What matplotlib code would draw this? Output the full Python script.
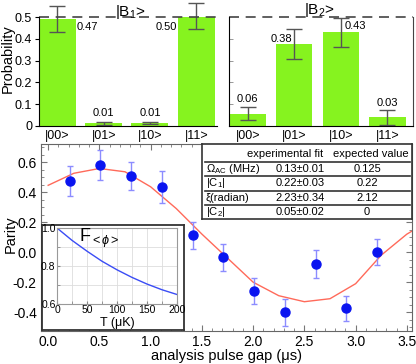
import numpy as np
import matplotlib
matplotlib.use("Agg")
from matplotlib import pyplot as plt
from matplotlib.ticker import MultipleLocator

plt.rcParams['font.family'] = ['Liberation Sans', 'DejaVu Sans']
plt.rcParams['mathtext.fontset'] = 'custom'
plt.rcParams['mathtext.rm'] = 'Liberation Sans'
plt.rcParams['mathtext.it'] = 'Liberation Sans:italic'

# top bar charts
states = ["|00>", "|01>", "|10>", "|11>"]
b1_prob = [0.49, 0.012, 0.013, 0.505]
b1_err = [0.06, 0.007, 0.006, 0.06]
b1_text = ["0.47", "0.01", "0.01", "0.50"]
b2_prob = [0.057, 0.376, 0.43, 0.04]
b2_err = [0.03, 0.07, 0.067, 0.035]
b2_text = ["0.06", "0.38", "0.43", "0.03"]

# parity measurement
gap = [0.21, 0.51, 0.81, 1.11, 1.41, 1.71, 2.01, 2.31, 2.61, 2.91, 3.21]
parity = [0.474, 0.577, 0.507, 0.435, 0.113, -0.035, -0.26, -0.40, -0.079, -0.374, 0.002]
parity_err = [0.1, 0.1, 0.095, 0.105, 0.09, 0.088, 0.085, 0.09, 0.09, 0.085, 0.088]

# fit curve
fit_t = [0.0, 0.25, 0.5, 0.75, 1.0, 1.25, 1.5, 1.75, 2.0, 2.25, 2.5, 2.75, 3.0, 3.25, 3.5, 3.55]
fit_p = [0.445, 0.525, 0.557, 0.535, 0.435, 0.29, 0.12, -0.04, -0.20, -0.29, -0.33, -0.31, -0.21, -0.02, 0.12, 0.14]

# inset
temp = [0, 25, 50, 75, 100, 125, 150, 175, 200]
fidelity = [1.0, 0.935, 0.878, 0.825, 0.78, 0.74, 0.705, 0.675, 0.65]

# table
row_names = ["Ω$_{\\mathrm{AC}}$ (MHz)", "|C$_1$|", "ξ(radian)", "|C$_2$|"]
fit_vals = ["0.13±0.01", "0.22±0.03", "2.23±0.34", "0.05±0.02"]
expected = ["0.125", "0.22", "2.12", "0"]

green = '#86f31f'
W, H = 416, 364
fig = plt.figure(figsize=(W / 100, H / 100), dpi=100)

def px(l, t, r, b):
    return [l / W, 1 - b / H, (r - l) / W, (b - t) / H]

x = np.arange(4)

# |B1>
ax1 = fig.add_axes(px(39, 17, 217, 126))
ax1.bar(x, b1_prob, width=0.8, color=green)
ax1.errorbar(x, b1_prob, yerr=b1_err, fmt='none', ecolor='#555555', elinewidth=1,
             capsize=5.5, capthick=1, clip_on=False)
ax1.set_xlim(-0.4, 3.45)
ax1.set_ylim(0, 0.5)
ax1.set_yticks([0, 0.1, 0.2, 0.3, 0.4, 0.5])
ax1.set_yticklabels(["0", "0.1", "0.2", "0.3", "0.4", "0.5"], fontsize=9)
ax1.set_xticks(x)
ax1.set_xticklabels(states, fontsize=9)
ax1.tick_params(axis='x', length=0, pad=3)
ax1.tick_params(axis='y', length=3, width=0.8, pad=2)
ax1.spines['top'].set_visible(False)
ax1.spines['right'].set_visible(False)
ax1.axhline(0.5, color='#444444', lw=1.2, ls=(0, (6, 4)), clip_on=False)
ax1.set_ylabel("Probability", fontsize=10.5)
ax1.yaxis.set_label_coords(-0.137, 0.62)
ax1.text(0.42, 0.454, b1_text[0], fontsize=8, ha='left', va='center')
ax1.text(1, 0.06, b1_text[1], fontsize=8, ha='center', va='center')
ax1.text(2, 0.06, b1_text[2], fontsize=8, ha='center', va='center')
ax1.text(2.58, 0.454, b1_text[3], fontsize=8, ha='right', va='center')
ax1.text(1.58, 0.525, "|B$_1$>", fontsize=11, ha='center', va='center')

# |B2>
ax2 = fig.add_axes(px(229, 17, 413, 126))
ax2.bar(x, b2_prob, width=0.78, color=green)
ax2.errorbar(x, b2_prob, yerr=b2_err, fmt='none', ecolor='#555555', elinewidth=1,
             capsize=5.5, capthick=1, clip_on=False)
ax2.set_xlim(-0.4, 3.55)
ax2.set_ylim(0, 0.5)
ax2.set_yticks([0.1, 0.2, 0.3, 0.4])
ax2.set_yticklabels([])
ax2.set_xticks(x)
ax2.set_xticklabels(states, fontsize=9)
ax2.tick_params(axis='x', length=0, pad=3)
ax2.tick_params(axis='y', direction='in', length=3, width=0.6, color='#888888')
ax2.spines['top'].set_visible(False)
ax2.spines['right'].set_color('#444444')
ax2.axhline(0.5, color='#444444', lw=1.2, ls=(0, (6, 4)), clip_on=False)
ax2.text(0, 0.124, b2_text[0], fontsize=8, ha='center', va='center')
ax2.text(0.95, 0.40, b2_text[1], fontsize=8, ha='right', va='center')
ax2.text(2.08, 0.459, b2_text[2], fontsize=8, ha='left', va='center')
ax2.text(3, 0.105, b2_text[3], fontsize=8, ha='center', va='center')
ax2.text(1.55, 0.53, "|B$_2$>", fontsize=11, ha='center', va='center')

# parity
ax3 = fig.add_axes(px(41, 144, 412, 331))
ax3.plot(fit_t, fit_p, color='#ff6a5a', lw=1)
ax3.errorbar(gap, parity, yerr=parity_err, fmt='o', color='#0a14f0', ms=6.5,
             ecolor='#8c8cff', elinewidth=1, capsize=2.5, capthick=1)
ax3.set_xlim(-0.07, 3.55)
ax3.set_ylim(-0.525, 0.72)
ax3.xaxis.set_major_locator(MultipleLocator(0.5))
ax3.xaxis.set_minor_locator(MultipleLocator(0.1))
ax3.yaxis.set_major_locator(MultipleLocator(0.2))
ax3.yaxis.set_minor_locator(MultipleLocator(0.05))
ax3.xaxis.set_major_formatter(plt.FormatStrFormatter('%.1f'))
ax3.yaxis.set_major_formatter(plt.FormatStrFormatter('%.1f'))
ax3.tick_params(which='both', direction='in', top=True, right=True, color='#777777',
                labelsize=10, pad=3)
ax3.tick_params(which='major', length=4)
ax3.tick_params(which='minor', length=2)
for s in ax3.spines.values():
    s.set_color('#666666')
ax3.set_xlabel("analysis pulse gap (μs)", fontsize=10.5, labelpad=0)
ax3.set_ylabel("Parity", fontsize=10.5)
ax3.yaxis.set_label_coords(-0.064, 0.52)

# table box
tab = fig.add_axes(px(202, 144, 412, 219))
tab.set_xlim(202, 412)
tab.set_ylim(219, 144)
tab.set_xticks([])
tab.set_yticks([])
for s in tab.spines.values():
    s.set_color('#333333')
    s.set_linewidth(1.2)
tab.text(285, 154, "experimental fit", fontsize=8, ha='center', va='center')
tab.text(371, 154, "expected value", fontsize=8, ha='center', va='center')
row_y = [169, 183.5, 198, 212]
line_y = [162, 176, 191, 205.5]
for ly in line_y:
    tab.plot([205, 410], [ly, ly], color='#333333', lw=1.2)
for i in range(4):
    tab.text(206, row_y[i], row_names[i], fontsize=8, ha='left', va='center')
    tab.text(300, row_y[i], fit_vals[i], fontsize=8, ha='center', va='center')
    tab.text(367, row_y[i], expected[i], fontsize=8, ha='center', va='center')

# inset frame + inset
frame = fig.add_axes(px(42, 225, 184, 330))
frame.set_xticks([])
frame.set_yticks([])
for s in frame.spines.values():
    s.set_color('#333333')
    s.set_linewidth(1.3)

ax4 = fig.add_axes(px(57, 228, 177, 304))
ax4.plot(temp, fidelity, color='#3a4cf5', lw=1)
ax4.set_xlim(0, 200)
ax4.set_ylim(0.6, 1.0)
ax4.set_xticks([0, 50, 100, 150, 200])
ax4.set_yticks([0.6, 0.8, 1.0])
ax4.set_yticklabels(["0.6", "0.8", "1.0"])
ax4.yaxis.set_minor_locator(MultipleLocator(0.1))
ax4.xaxis.set_minor_locator(MultipleLocator(25))
ax4.grid(True, which='both', color='#dddddd', lw=0.6)
ax4.tick_params(which='both', direction='in', labelsize=7.5, length=2, pad=1, color='#888888')
for s in ax4.spines.values():
    s.set_color('#999999')
ax4.set_xlabel("T (μK)", fontsize=9, labelpad=1)
ax4.text(37, 0.945, "F$_{{<}\\phi{>}}$", fontsize=13, ha='left', va='center')

fig.savefig("out.png", dpi=100)
